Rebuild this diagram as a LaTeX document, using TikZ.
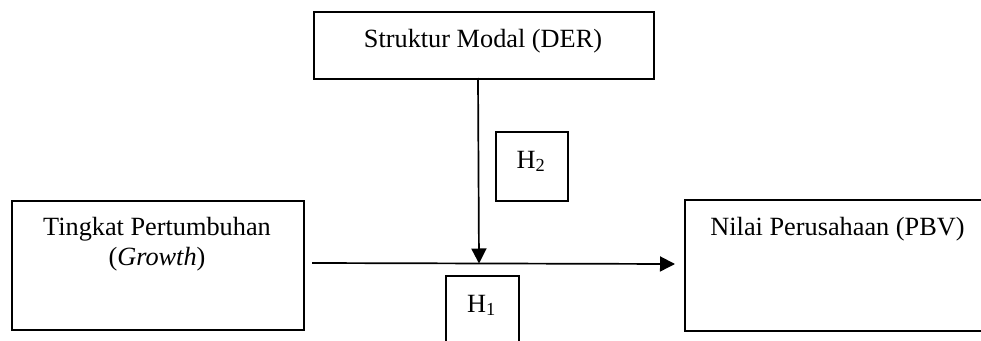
\documentclass[tikz,border=0pt]{standalone}
\usepackage{fontspec}
\setmainfont{Liberation Serif}
\usetikzlibrary{arrows.meta}
\begin{document}
\begin{tikzpicture}[x=1pt,y=-1pt,
  box/.style={draw=black,line width=1.6pt,rectangle,inner sep=0pt,anchor=north west},
  lbl/.style={anchor=base,inner sep=0pt,font=\fontsize{26.3}{30}\selectfont},
  conn/.style={line width=1.7pt,-{Triangle[length=15pt,width=15pt]}}]
\useasboundingbox (0,0) rectangle (981,340);
\clip (0,0) rectangle (981,340);
\node[box,minimum width=340pt,minimum height=67pt] (der) at (313,11) {};
\node[box,minimum width=292pt,minimum height=129pt] (growth) at (11,200) {};
\node[box,minimum width=307pt,minimum height=131pt] (pbv) at (684,199) {};
\node[box,minimum width=72pt,minimum height=69pt] (h2) at (495,131) {};
\node[box,minimum width=73pt,minimum height=80pt] (h1) at (445,275) {};
\node[lbl] (tder) at (483,47) {Struktur Modal (DER)};
\node[lbl] (tg1) at (157,235) {Tingkat Pertumbuhan};
\node[lbl] (tg2) at (157,265) {(\textit{Growth})};
\node[lbl] (tpbv) at (837.5,235) {Nilai Perusahaan (PBV)};
\node[lbl] (th2) at (531,168) {H\textsubscript{2}};
\node[lbl] (th1) at (481.5,312) {H\textsubscript{1}};
\coordinate (vstart) at (478,78);
\coordinate (vend) at (479,263.5);
\coordinate (hstart) at (312,263);
\coordinate (hend) at (675,264);
\draw[conn] (vstart) -- (vend);
\draw[conn] (hstart) -- (hend);
\end{tikzpicture}
\end{document}
